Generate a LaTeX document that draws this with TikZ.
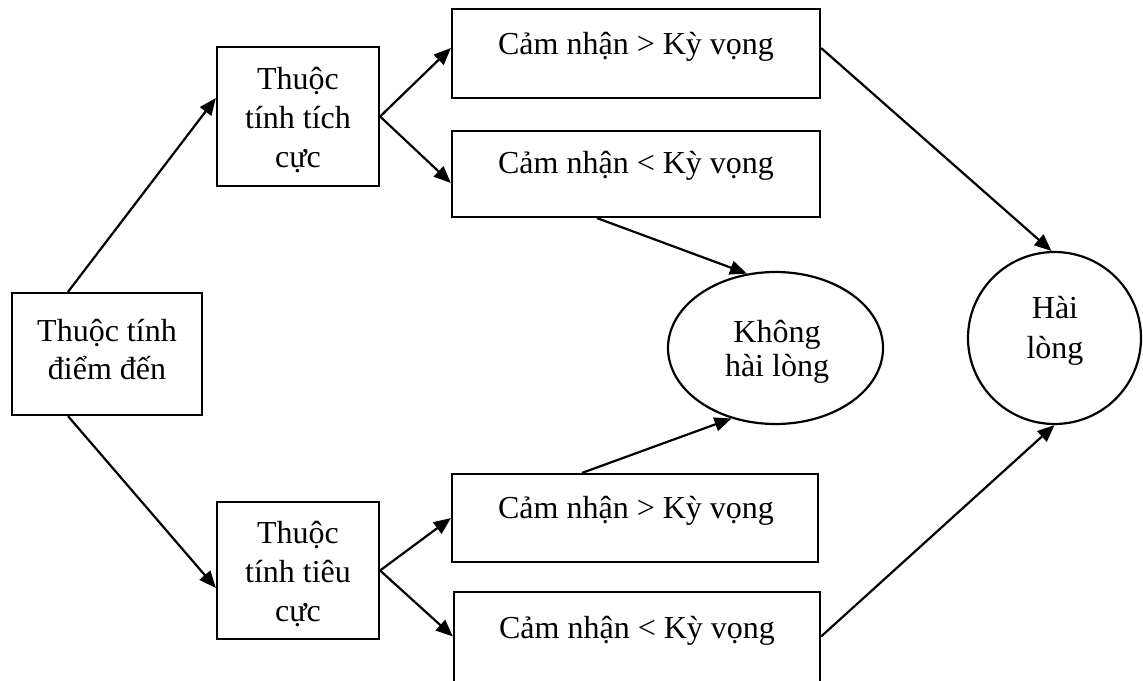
\documentclass[tikz,border=0pt]{standalone}
\usepackage{fontspec}
\setmainfont{Liberation Serif}
\usetikzlibrary{arrows.meta,shapes.geometric}
\newcommand{\stk}[1]{\begin{tabular}[t]{@{}c@{}}#1\end{tabular}}
\begin{document}
\begin{tikzpicture}[x=1pt,y=-1pt,
  box/.style={draw, line width=2.2pt, inner sep=0pt, minimum width=#1},
  box/.default=100pt,
  oval/.style={draw, ellipse, line width=2.2pt, inner sep=0pt},
  txt/.style={anchor=base, inner sep=0pt, font=\fontsize{32}{#1}\selectfont},
  txt/.default=39,
  arr/.style={line width=2.2pt, -{Triangle[length=17pt,width=14pt]}}]
\useasboundingbox (0,0) rectangle (1143,680);
% boxes
\node[box=190pt, minimum height=122pt] (src) at (107,354) {};
\node[box=162pt, minimum height=139pt] (pos) at (298,116.5) {};
\node[box=162pt, minimum height=137pt] (neg) at (298,570.5) {};
\node[box=368pt, minimum height=89pt] (a1) at (636,53.5) {};
\node[box=368pt, minimum height=86pt] (a2) at (636,174) {};
\node[box=366pt, minimum height=88pt] (b1) at (635,518) {};
\node[box=366pt, minimum height=96pt] (b2) at (637,640) {};
\node[oval, minimum width=215pt, minimum height=152pt] (dis) at (775.5,348) {};
\node[oval, minimum width=173pt, minimum height=172pt] (sat) at (1054.5,338) {};
% texts
\node[txt=38] (tsrc) at (107,341) {\stk{Thuộc tính\\điểm đến}};
\node[txt] (tpos) at (298,89) {\stk{Thuộc\\tính tích\\cực}};
\node[txt] (tneg) at (298,543) {\stk{Thuộc\\tính tiêu\\cực}};
\node[txt] (ta1) at (636,54) {Cảm nhận > Kỳ vọng};
\node[txt] (ta2) at (636,173) {Cảm nhận < Kỳ vọng};
\node[txt] (tb1) at (636,518) {Cảm nhận > Kỳ vọng};
\node[txt] (tb2) at (637,638) {Cảm nhận < Kỳ vọng};
\node[txt=34] (tdis) at (777,342) {\stk{Không\\hài lòng}};
\node[txt=40] (tsat) at (1055,318) {\stk{Hài\\lòng}};
% connectors
\draw[arr] ([xshift=-39pt]src.north) -- ([yshift=18.5pt]pos.west);
\draw[arr] ([xshift=-39pt]src.south) -- ([yshift=-17.5pt]neg.west);
\draw[arr] (pos.east) -- ([yshift=5.5pt]a1.west);
\draw[arr] (pos.east) -- ([yshift=-9pt]a2.west);
\draw[arr] (neg.east) -- (b1.west);
\draw[arr] (neg.east) -- ([yshift=3.5pt]b2.west);
\draw[arr] ([xshift=-39pt]a2.south) -- (dis.111);
\draw[arr] ([xshift=-53pt]b1.north) -- (dis.238);
\draw[arr] ([yshift=5.5pt]a1.east) -- (sat.92);
\draw[arr] ([yshift=3.5pt]b2.east) -- (sat.south);
\end{tikzpicture}
\end{document}
